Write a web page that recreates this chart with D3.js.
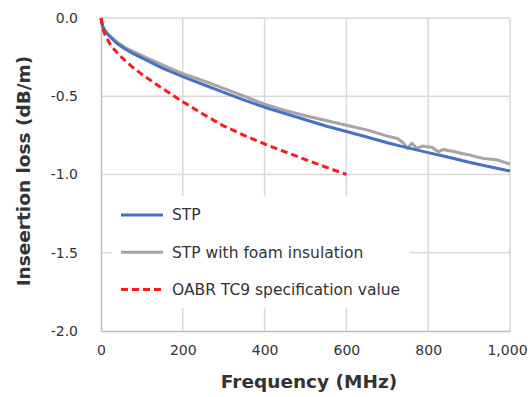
<!DOCTYPE html>
<html lang="en">
<head>
<meta charset="UTF-8">
<title>Insertion loss</title>
<script src="https://d3js.org/d3.v7.min.js"></script>
<style>
  body { margin: 0; background: #fff; }
  text { font-family: "DejaVu Sans", sans-serif; fill: #333; }
</style>
</head>
<body>
<svg width="528" height="397"></svg>
<script>
// data (MHz, dB/m)
var stpFreq = [0, 2, 5, 10, 20, 40, 60, 80, 100, 150, 200, 250, 300, 350, 400, 450, 500, 550, 600, 650, 700, 750, 800, 850, 900, 950, 1000];
var stpLoss = [0, -0.03, -0.06, -0.085, -0.115, -0.165, -0.2, -0.23, -0.255, -0.32, -0.375, -0.425, -0.475, -0.525, -0.57, -0.61, -0.65, -0.69, -0.725, -0.76, -0.797, -0.83, -0.86, -0.89, -0.922, -0.95, -0.978];

var foamFreq = [0, 2, 5, 10, 20, 40, 60, 80, 100, 150, 200, 250, 300, 350, 400, 450, 500, 550, 600, 650, 700, 725, 740, 749, 760, 772, 785, 810, 825, 837, 865, 885, 902, 935, 967, 1000];
var foamLoss = [0, -0.03, -0.055, -0.08, -0.11, -0.155, -0.19, -0.215, -0.24, -0.3, -0.355, -0.4, -0.45, -0.5, -0.55, -0.59, -0.625, -0.655, -0.685, -0.715, -0.755, -0.77, -0.8, -0.833, -0.8, -0.833, -0.818, -0.827, -0.855, -0.84, -0.855, -0.867, -0.876, -0.898, -0.906, -0.933];

var specFreq = [0, 5, 10, 25, 50, 75, 100, 150, 200, 250, 300, 350, 400, 450, 500, 550, 600];
var specLoss = [0, -0.07, -0.11, -0.18, -0.25, -0.31, -0.36, -0.45, -0.535, -0.615, -0.69, -0.75, -0.805, -0.855, -0.905, -0.953, -1.0];

var xTicks = [0, 200, 400, 600, 800, 1000];
var yTicks = [0, -0.5, -1.0, -1.5, -2.0];

var seriesNames = ["STP", "STP with foam insulation", "OABR TC9 specification value"];

var svg = d3.select("svg");
var plotL = 101, plotR = 510, plotT = 18, plotB = 331;

var x = d3.scaleLinear().domain([0, 1000]).range([plotL, plotR]);
var y = d3.scaleLinear().domain([-2, 0]).range([plotB, plotT]);

// gridlines
svg.append("g").selectAll("line").data(yTicks.slice(0, 4)).enter().append("line")
  .attr("x1", plotL).attr("x2", plotR)
  .attr("y1", function (d) { return y(d); }).attr("y2", function (d) { return y(d); })
  .attr("stroke", "#d9d9d9").attr("stroke-width", 1.5);
svg.append("g").selectAll("line").data(xTicks.slice(1)).enter().append("line")
  .attr("x1", function (d) { return x(d); }).attr("x2", function (d) { return x(d); })
  .attr("y1", plotT).attr("y2", plotB)
  .attr("stroke", "#d9d9d9").attr("stroke-width", 1.5);

// axes
var xAxis = svg.append("g").attr("transform", "translate(0," + plotB + ")")
  .call(d3.axisBottom(x).tickValues(xTicks).tickSize(0).tickPadding(20)
    .tickFormat(d3.format(",")));
var yAxis = svg.append("g").attr("transform", "translate(" + plotL + ",0)")
  .call(d3.axisLeft(y).tickValues(yTicks).tickSize(0).tickPadding(23)
    .tickFormat(function (d) { return d3.format(".1f")(d).replace("−", "-"); }));
[xAxis, yAxis].forEach(function (a) {
  a.select(".domain").attr("stroke", "#bfbfbf").attr("stroke-width", 1.5);
  a.selectAll("text").attr("font-size", 14).attr("fill", "#333")
    .attr("font-family", "DejaVu Sans, sans-serif");
});
xAxis.selectAll("text").attr("dy", "0.3em");
xAxis.selectAll("text").filter(function (d) { return d === 1000; }).attr("dx", -3);

// legend box
svg.append("rect").attr("x", 112).attr("y", 196).attr("width", 298).attr("height", 112)
  .attr("fill", "#fff");

var line = d3.line().x(function (d) { return x(d[0]); }).y(function (d) { return y(d[1]); });

function pairs(fs, vs) { return fs.map(function (f, i) { return [f, vs[i]]; }); }

var styles = [
  { color: "#4472c4", dash: null },
  { color: "#a5a5a5", dash: null },
  { color: "#ff1a1a", dash: "7,4" }
];
var data = [pairs(stpFreq, stpLoss), pairs(foamFreq, foamLoss), pairs(specFreq, specLoss)];

// draw foam first so STP sits on top like the original
[1, 0, 2].forEach(function (i) {
  svg.append("path").datum(data[i])
    .attr("d", line)
    .attr("fill", "none")
    .attr("stroke", styles[i].color)
    .attr("stroke-width", 3)
    .attr("stroke-dasharray", styles[i].dash)
    .attr("stroke-linejoin", "round");
});

// legend
var lg = svg.append("g").selectAll("g").data(seriesNames).enter().append("g")
  .attr("transform", function (d, i) { return "translate(121," + (215 + i * 37.2) + ")"; });
lg.append("line").attr("x1", 0).attr("x2", 42)
  .attr("stroke", function (d, i) { return styles[i].color; })
  .attr("stroke-width", 3)
  .attr("stroke-dasharray", function (d, i) { return styles[i].dash; });
lg.append("text").attr("x", 51).attr("dy", "0.35em")
  .attr("font-family", "Open Sans, sans-serif").attr("font-size", 15.5)
  .text(function (d) { return d; });

// axis titles
svg.append("text").attr("x", 309).attr("y", 388)
  .attr("text-anchor", "middle").attr("font-weight", "bold").attr("font-size", 18.5)
  .text("Frequency (MHz)");
svg.append("text").attr("transform", "translate(30,171) rotate(-90)")
  .attr("text-anchor", "middle").attr("font-weight", "bold").attr("font-size", 18.5)
  .text("Inseertion loss (dB/m)");
</script>
</body>
</html>
